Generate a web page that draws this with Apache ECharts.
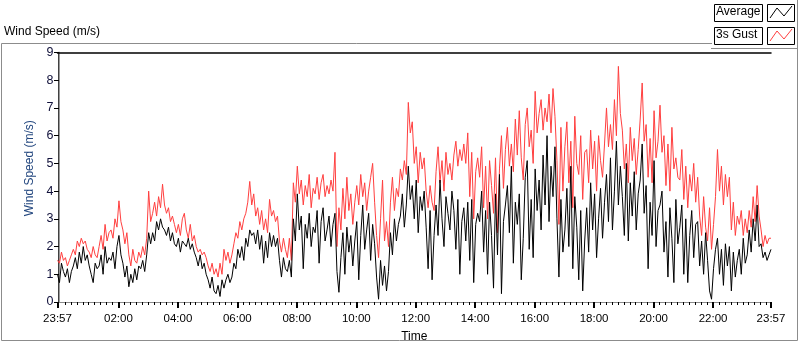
<!DOCTYPE html>
<html>
<head>
<meta charset="utf-8">
<script src="https://cdn.jsdelivr.net/npm/echarts@6/dist/echarts.min.js"></script>
<style>
  html, body { margin: 0; padding: 0; background: #fff; }
  #chart { width: 800px; height: 342px; }
</style>
</head>
<body>
<div id="chart"></div>
<script>
// samples every 4 minutes, starting 23:57 (minute -3 of the day)
const startMinute = -3;
const stepMinutes = 4;

const gust = [
  1.5,1.4,1.8,1.5,1.6,1.3,1.5,1.7,
  1.9,1.7,2.2,2.0,2.3,2.1,2.2,1.9,
  1.8,1.6,2.0,1.7,1.6,
  2.0,2.4,1.9,2.8,2.2,2.5,
  2.6,2.3,3.0,2.7,3.65,2.9,
  2.6,2.1,2.5,
  1.7,1.3,1.9,1.5,1.4,1.8,
  1.6,2.0,1.7,
  2.3,4.0,2.9,
  3.2,3.6,3.1,3.8,3.4,4.25,
  3.5,3.2,3.4,2.9,3.1,2.8,
  2.5,2.8,2.4,3.0,3.2,
  2.6,2.3,2.8,2.2,2.4,
  2.0,1.8,1.9,1.7,1.8,
  1.6,1.3,1.1,1.4,1.0,
  1.2,0.9,1.4,1.0,1.9,
  1.5,1.8,1.4,1.7,
  2.1,2.5,2.3,2.9,2.6,3.0,
  3.2,3.6,4.35,3.5,3.9,3.1,3.4,
  2.8,3.3,2.6,3.0,2.5,3.7,3.1,
  3.3,2.9,3.1,
  2.2,1.8,2.3,1.9,
  1.6,2.3,1.5,
  4.3,3.6,4.9,3.9,4.4,3.5,4.2,3.8,4.6,3.4,4.1,
  3.9,4.5,3.7,4.3,4.6,3.8,4.2,3.9,4.4,4.0,5.4,
  2.0,3.4,2.6,4.1,3.0,4.5,3.3,3.9,2.8,3.6,
  4.2,3.5,4.6,3.8,4.3,3.3,4.0,4.5,5.0,3.6,
  2.4,1.6,3.0,4.4,2.2,2.9,2.0,
  3.6,4.5,3.3,4.1,3.8,
  4.8,4.4,5.1,4.6,
  7.2,6.1,
  6.5,5.0,5.6,4.3,5.4,4.8,5.2,
  4.0,3.4,4.2,3.6,3.3,
  4.7,5.6,4.3,5.1,4.0,5.4,4.6,5.0,4.4,
  5.3,5.8,4.9,5.5,5.1,5.7,5.0,
  6.1,3.8,5.4,3.0,4.7,5.2,
  4.5,5.6,3.4,4.9,3.0,5.1,4.2,
  3.2,5.2,2.5,4.8,6.0,4.1,5.5,
  6.3,4.9,5.7,4.7,6.6,5.3,
  6.9,5.2,4.4,6.4,7.0,5.6,6.2,5.0,7.6,6.1,
  6.8,7.3,6.2,7.0,6.5,7.5,6.1,7.7,6.7,
  5.1,2.8,6.3,4.0,5.6,
  6.5,4.3,5.8,3.4,6.7,5.0,4.6,6.0,3.7,5.4,
  5.5,4.3,6.2,4.8,5.8,4.0,6.0,5.1,4.5,5.7,
  7.0,5.6,6.4,5.5,7.3,6.0,8.5,6.8,
  6.2,4.8,5.7,4.3,6.3,5.1,5.9,4.6,5.5,
  6.6,7.9,5.8,
  6.4,4.5,5.9,4.3,6.9,5.2,5.8,
  7.1,5.4,6.0,4.2,5.7,4.0,6.3,4.8,5.2,4.5,
  4.4,5.5,3.7,4.9,3.4,4.6,4.0,5.0,3.6,
  4.5,3.1,2.4,3.8,2.7,
  2.2,3.4,1.9,2.8,3.8,
  5.5,4.0,4.9,3.5,4.6,3.8,
  4.5,2.6,3.6,2.4,3.1,
  2.8,3.3,2.4,3.0,2.5,
  3.3,2.7,3.8,2.9,4.2,3.1,
  2.6,2.0,2.4,2.1,2.3,2.3
];

const average = [
  1.0,0.7,1.4,1.1,0.9,1.2,0.7,1.1,
  1.3,1.6,1.2,1.8,1.4,2.0,1.5,1.7,
  1.3,1.0,0.7,1.4,1.2,
  1.3,1.7,1.0,2.0,1.4,1.6,
  1.5,1.8,1.2,2.0,2.4,1.7,
  1.4,0.9,1.3,
  0.55,1.0,0.7,1.2,0.8,1.3,
  1.2,1.5,1.1,
  1.7,2.5,2.1,
  2.5,2.2,2.9,2.6,3.0,2.7,
  2.6,2.4,2.7,2.2,2.5,2.1,
  2.0,2.3,1.8,2.2,2.1,
  2.0,2.3,1.9,2.1,1.8,
  1.6,1.3,1.7,1.2,1.4,
  1.0,0.8,0.5,0.9,0.4,
  0.3,0.6,0.2,0.8,0.5,
  0.8,1.0,0.7,0.9,
  1.4,1.2,1.9,1.6,2.0,1.5,
  2.3,2.0,2.6,2.4,2.5,2.1,2.6,
  1.9,2.4,1.4,2.2,1.6,2.5,2.0,
  2.4,2.0,2.3,
  1.5,0.9,1.6,1.2,
  1.1,1.5,0.9,
  3.0,2.2,3.9,2.6,3.1,1.2,2.8,2.3,3.2,2.0,2.7,
  2.5,3.3,1.4,2.9,3.4,2.2,2.6,3.1,2.0,2.8,3.2,
  1.1,0.35,1.6,2.5,1.0,2.7,1.8,2.4,1.3,2.2,
  2.9,0.8,2.4,3.5,1.9,2.6,3.2,1.5,2.8,2.1,
  0.9,0.1,1.5,0.6,1.3,0.4,1.1,
  2.5,1.7,3.0,2.2,2.8,
  3.1,3.9,2.7,3.5,
  4.9,3.7,
  4.2,3.0,4.4,2.5,3.8,3.3,4.0,
  2.7,1.2,3.3,0.8,2.4,
  3.5,2.4,4.4,3.0,2.0,3.8,3.2,2.6,4.0,
  3.3,1.9,3.7,1.0,2.9,3.4,2.2,
  3.6,1.5,3.7,0.7,2.8,3.2,
  2.9,4.0,1.8,3.3,1.0,3.6,2.4,
  0.5,3.9,1.7,4.6,0.3,2.9,3.5,
  4.2,2.5,4.9,1.4,3.6,2.8,
  3.9,0.8,2.3,4.5,5.1,1.9,3.7,1.6,4.8,3.3,
  4.4,2.6,5.3,3.5,6.0,2.9,4.9,3.8,5.6,
  3.0,0.9,3.7,1.8,2.6,
  4.1,2.0,4.9,1.2,3.8,2.7,0.8,3.3,0.4,2.2,
  3.4,1.8,4.3,2.6,3.9,1.6,3.0,4.1,2.3,3.6,
  4.6,2.9,5.2,2.6,4.0,5.8,3.5,4.9,
  3.8,2.4,5.0,2.2,4.3,3.1,4.7,2.6,3.9,
  4.4,5.7,3.2,
  4.2,1.2,3.6,2.4,5.1,2.0,3.3,
  3.5,4.0,1.8,2.9,0.9,3.4,2.3,0.7,3.7,2.1,
  2.7,3.5,1.0,3.0,0.7,2.4,3.3,1.6,2.8,
  2.9,1.3,2.2,1.0,2.5,
  1.5,0.4,0.1,1.2,1.9,
  2.3,1.0,1.9,0.6,2.1,1.3,
  2.0,0.4,1.8,0.9,1.5,
  1.9,1.0,2.3,1.4,1.7,
  2.6,1.8,3.0,2.2,3.5,2.0,
  2.1,1.6,1.8,1.5,1.7,1.9
];

// tick positions in minutes of the day
const majorTicks = [-3, 120, 240, 360, 480, 600, 720, 840, 960, 1080, 1200, 1320, 1437];
const minorTicks = [];
for (let m = 12; m < 1437; m += 12) {
  if (m % 120 !== 0) minorTicks.push(m);
}

function toPairs(values) {
  return values.map(function (v, i) { return [startMinute + i * stepMinutes, v]; });
}

function clock(m) {
  m = (m + 1440) % 1440;
  const h = Math.floor(m / 60), mm = m % 60;
  return (h < 10 ? '0' : '') + h + ':' + (mm < 10 ? '0' : '') + mm;
}

const font = 'Liberation Sans';
const chart = echarts.init(document.getElementById('chart'), null, { renderer: 'canvas' });

chart.setOption({
  animation: false,
  backgroundColor: '#fff',
  textStyle: { fontFamily: font },
  grid: { left: 57.5, right: 29, top: 52.5, bottom: 40, outerBoundsMode: 'none', containLabel: false },
  xAxis: [{
    type: 'value',
    min: -3,
    max: 1437,
    name: 'Time',
    nameLocation: 'middle',
    nameGap: 29,
    nameTextStyle: { color: '#000', fontSize: 12, fontFamily: font },
    axisLine: { lineStyle: { color: '#8a8a8a', width: 1 } },
    axisTick: { customValues: majorTicks, length: 6, lineStyle: { color: '#000', width: 2 } },
    axisLabel: {
      customValues: majorTicks,
      formatter: clock,
      color: '#000',
      fontSize: 11.5,
      margin: 11,
      fontFamily: font
    },
    splitLine: { show: false }
  }, {
    // minor ticks
    type: 'value',
    min: -3,
    max: 1437,
    position: 'bottom',
    axisLine: { show: false },
    axisTick: { customValues: minorTicks, length: 3, lineStyle: { color: '#000' } },
    axisLabel: { show: false },
    splitLine: { show: false }
  }, {
    // top frame of the plot area
    type: 'value',
    min: -3,
    max: 1437,
    position: 'top',
    axisLine: { lineStyle: { color: '#000', width: 1.5 } },
    axisTick: { show: false },
    axisLabel: { show: false },
    splitLine: { show: false }
  }],
  yAxis: [{
    type: 'value',
    min: 0,
    max: 9,
    interval: 1,
    name: 'Wind Speed (m/s)',
    nameLocation: 'middle',
    nameGap: 18,
    nameTextStyle: { color: '#23477f', fontSize: 12, fontFamily: font, padding: [0, 0, 0, 18] },
    axisLine: { lineStyle: { color: '#000', width: 1.5 } },
    axisTick: { length: 5, lineStyle: { color: '#000' } },
    axisLabel: { color: '#10103a', fontSize: 12.5, margin: 4, fontFamily: font },
    splitLine: { show: false }
  }, {
    // right frame of the plot area
    type: 'value',
    min: 0,
    max: 9,
    position: 'right',
    axisLine: { show: true, lineStyle: { color: '#9a9a9a' } },
    axisTick: { show: false },
    axisLabel: { show: false },
    splitLine: { show: false }
  }],
  series: [{
    name: '3s Gust',
    type: 'line',
    showSymbol: false,
    symbol: 'none',
    data: toPairs(gust),
    lineStyle: { color: '#ff3f3f', width: 1 },
    z: 2
  }, {
    name: 'Average',
    type: 'line',
    showSymbol: false,
    symbol: 'none',
    data: toPairs(average),
    lineStyle: { color: '#000', width: 1 },
    z: 3
  }],
  graphic: [
    // outer panel frame
    { type: 'polyline', shape: { points: [[712, 43.5], [1.5, 43.5], [1.5, 340.5], [797.5, 340.5], [797.5, 0]] },
      style: { stroke: '#8c8c8c', fill: null, lineWidth: 1 } },
    { type: 'line', shape: { x1: 711, y1: 48.5, x2: 797, y2: 48.5 }, style: { stroke: '#8c8c8c', lineWidth: 1 } },
    { type: 'text', left: 4, top: 26, style: { text: 'Wind Speed (m/s)', font: '12px "Liberation Sans"', fill: '#000' } },
    // legend
    { type: 'rect', shape: { x: 714.5, y: 4.5, width: 48, height: 17 }, style: { stroke: '#000', fill: '#fff' } },
    { type: 'text', x: 716, y: 6, style: { text: 'Average', font: '12px "Liberation Sans"', fill: '#000' } },
    { type: 'rect', shape: { x: 767.5, y: 4.5, width: 27, height: 17 }, style: { stroke: '#000', fill: '#fff' } },
    { type: 'polyline', shape: { points: [[770, 18], [777, 8], [784, 16], [792, 6]] }, style: { stroke: '#000', fill: null, lineWidth: 1 } },
    { type: 'rect', shape: { x: 714.5, y: 27.5, width: 48, height: 17 }, style: { stroke: '#000', fill: '#fff' } },
    { type: 'text', x: 716, y: 29, style: { text: '3s Gust', font: '12px "Liberation Sans"', fill: '#000' } },
    { type: 'rect', shape: { x: 767.5, y: 27.5, width: 27, height: 17 }, style: { stroke: '#000', fill: '#fff' } },
    { type: 'polyline', shape: { points: [[770, 41], [777, 31], [784, 39], [792, 29]] }, style: { stroke: '#ff3f3f', fill: null, lineWidth: 1 } }
  ]
});
</script>
</body>
</html>
